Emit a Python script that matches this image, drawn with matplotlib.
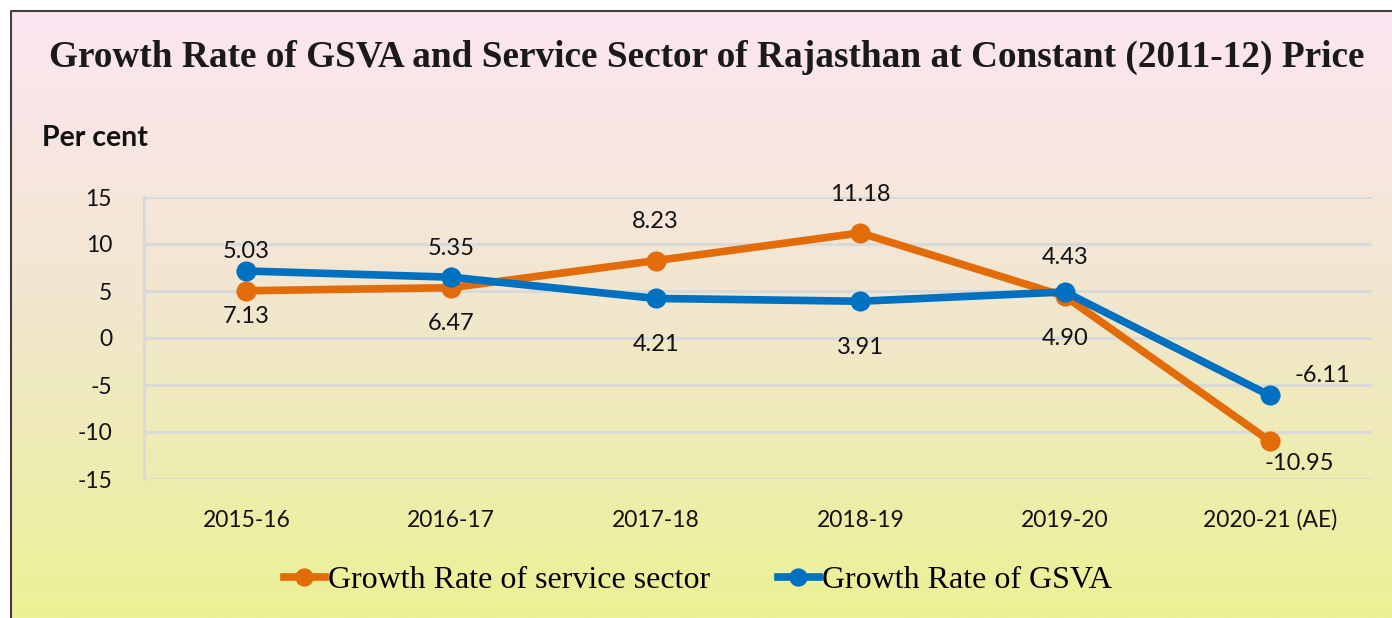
import numpy as np
import matplotlib
matplotlib.use("Agg")
import matplotlib.pyplot as plt

plt.rcParams["axes.unicode_minus"] = False

# ---- data ----
categories = ["2015-16", "2016-17", "2017-18", "2018-19", "2019-20", "2020-21 (AE)"]
service_sector = [5.03, 5.35, 8.23, 11.18, 4.43, -10.95]
gsva = [7.13, 6.47, 4.21, 3.91, 4.90, -6.11]
service_label = "Growth Rate of service sector"
gsva_label = "Growth Rate of GSVA"
title = "Growth Rate of GSVA and Service Sector of Rajasthan at Constant (2011-12) Price"
y_label = "Per cent"
y_ticks = [-15, -10, -5, 0, 5, 10, 15]

# ---- styling ----
W, H = 1392, 618
ORANGE = "#E36C0A"
BLUE = "#0070C0"
GRID = "#D9D9D9"
SANS = ["Lato", "DejaVu Sans"]
SERIF = ["Liberation Serif", "DejaVu Serif"]

fig = plt.figure(figsize=(W / 100, H / 100), dpi=100)
fig.patch.set_facecolor("white")

# background gradient inside the chart frame
bg = fig.add_axes([0, 0, 1, 1], zorder=-10)
bg.set_xlim(0, W)
bg.set_ylim(H, 0)
bg.axis("off")
n = 256
t = np.linspace(0, 1, n)[:, None]
top = np.array([253, 229, 242]) / 255
mid = np.array([241, 231, 205]) / 255
bot = np.array([236, 241, 148]) / 255
grad = np.where(t < 0.5, top + (mid - top) * (t / 0.5), mid + (bot - mid) * ((t - 0.5) / 0.5))
grad = grad[:, None, :] * np.ones((1, 2, 1))
bg.imshow(grad, extent=[11, W, H, 11], aspect="auto", interpolation="bilinear")
bg.plot([11, 11, W], [H, 11, 11], color="#404040", lw=1.5, solid_capstyle="butt")

# main axes
left, right = 144 / W, 1372 / W
bottom, topf = 1 - 479 / H, 1 - 197 / H
ax = fig.add_axes([left, bottom, right - left, topf - bottom])
ax.patch.set_alpha(0)
x = np.arange(len(categories))
ax.set_xlim(-0.5, len(categories) - 0.5)
ax.set_ylim(-15, 15)
ax.set_yticks(y_ticks)
ax.set_xticks(x)
ax.set_xticklabels(categories)
ax.yaxis.grid(True, color=GRID, lw=2.2)
ax.set_axisbelow(True)
for s in ["top", "right", "bottom"]:
    ax.spines[s].set_visible(False)
ax.spines["left"].set_color(GRID)
ax.spines["left"].set_linewidth(2.2)
ax.tick_params(axis="both", length=0, labelsize=16.5)
ax.tick_params(axis="x", pad=22)
ax.tick_params(axis="y", pad=23)
for lab in ax.get_xticklabels() + ax.get_yticklabels():
    lab.set_family(SANS)
    lab.set_color("#111111")

ax.plot(x, service_sector, color=ORANGE, lw=5.5, marker="o", ms=13.5,
        label=service_label, zorder=3, clip_on=False)
ax.plot(x, gsva, color=BLUE, lw=5.5, marker="o", ms=13.5,
        label=gsva_label, zorder=4, clip_on=False)

# data labels (offsets in points)
service_offsets = [(0, 28), (0, 28), (0, 28), (0, 28), (0, 28), (21, -16.5)]
gsva_offsets = [(0, -33), (0, -33), (0, -33.5), (0, -33.5), (0, -33.5), (38, 14.5)]
for xi, v, off in zip(x, service_sector, service_offsets):
    ax.annotate(f"{v:.2f}", (xi, v), xytext=off, textcoords="offset points",
                ha="center", va="center", fontsize=17, family=SANS, color="#111111")
for xi, v, off in zip(x, gsva, gsva_offsets):
    ax.annotate(f"{v:.2f}", (xi, v), xytext=off, textcoords="offset points",
                ha="center", va="center", fontsize=17, family=SANS, color="#111111")

# title and axis label
fig.text(707 / W, 1 - 57 / H, title, ha="center", va="center", fontsize=26.8,
         fontweight="bold", family=SERIF, color="#1a1a1a")
fig.text(42 / W, 1 - 138 / H, y_label, ha="left", va="center", fontsize=20.5,
         fontweight="bold", family=SANS, color="#111111")

# legend
leg = ax.legend(loc="center", bbox_to_anchor=(698 / W, 1 - 580 / H),
                bbox_transform=fig.transFigure, ncol=2, frameon=False,
                prop={"family": SERIF, "size": 23}, handlelength=1.3,
                handletextpad=0.1, columnspacing=2.1, markerscale=0.9)

fig.savefig("out.png", dpi=100)
